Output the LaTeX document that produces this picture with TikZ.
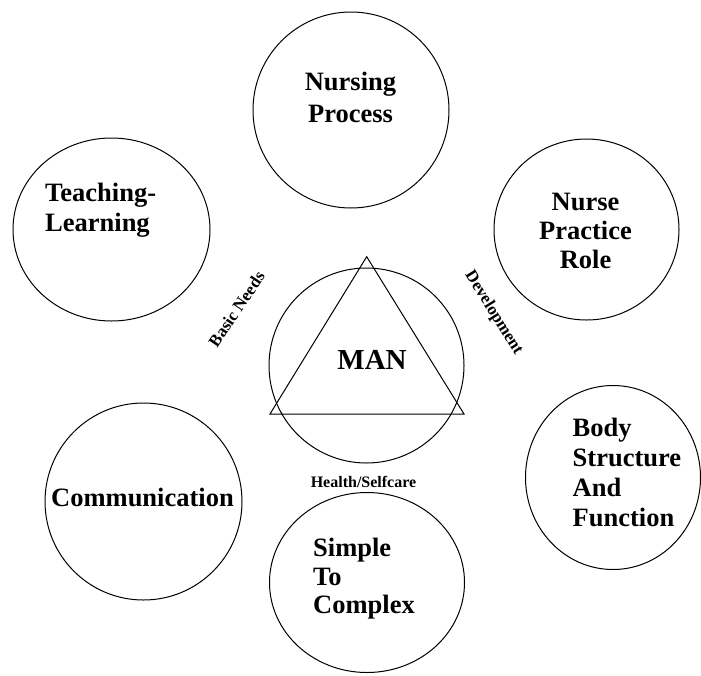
\documentclass[tikz,border=0pt]{standalone}
\usepackage{fontspec}
\setmainfont{Liberation Serif}
\usetikzlibrary{shapes.geometric}
\newcommand{\stack}[2][l]{\begin{tabular}[t]{@{}#1@{}}#2\end{tabular}}

\begin{document}
\begin{tikzpicture}[x=1pt,y=-1pt,
		bubble/.style={draw, ellipse, line width=1pt, inner sep=0pt},
		txt/.style={inner sep=0pt, font=\bfseries\fontsize{26.5}{#1}\selectfont},
		txt/.default=30,
		lbl/.style={inner sep=0pt, font=\bfseries\fontsize{#1}{#1}\selectfont},
		lbl/.default=17]
	\useasboundingbox (0,0) rectangle (701,675);
	% outer bubbles
	\node[bubble, minimum width=196pt, minimum height=196pt] (nursing) at (351,110) {};
	\node[bubble, minimum width=197pt, minimum height=183pt] (teaching) at (111.5,229.5) {};
	\node[bubble, minimum width=185pt, minimum height=181pt] (nurse) at (586.5,229.5) {};
	\node[bubble, minimum width=197pt, minimum height=197pt] (comm) at (143.5,501.5) {};
	\node[bubble, minimum width=175pt, minimum height=184pt] (body) at (613,477.5) {};
	\node[bubble, minimum width=195pt, minimum height=180pt] (simple) at (367,582.5) {};
	% centre
	\node[bubble, minimum width=195pt, minimum height=195pt] (man) at (366.5,365.5) {};
	\coordinate (apex) at (366.7,256.7);
	\coordinate (baseL) at (270,414);
	\coordinate (baseR) at (464,414);
	\draw[line width=1pt] (apex) -- (baseL) -- (baseR) -- cycle;
	\node[inner sep=0pt, anchor=base, font=\bfseries\fontsize{29}{29}\selectfont] (mantext) at (372,369) {MAN};
	% texts
	\node[txt=32, anchor=base] (nursingtext) at (350.5,90) {\stack[c]{Nursing\\Process}};
	\node[txt, anchor=base west] (teachingtext) at (45,201.5) {\stack{Teaching-\\Learning}};
	\node[txt=29, anchor=base] (nursetext) at (585.5,210) {\stack[c]{Nurse\\Practice\\Role}};
	\node[txt, anchor=base] (commtext) at (142.5,506.5) {Communication};
	\node[txt, anchor=base west] (bodytext) at (572.5,436.5) {\stack{Body\\Structure\\And\\Function}};
	\node[txt=28.5, anchor=base west] (simpletext) at (313,556.5) {\stack{Simple\\To\\Complex}};
	% labels round MAN
	\node[lbl, rotate=56] (basic) at (236.5,309) {Basic Needs};
	\node[lbl, rotate=-58] (devel) at (493.5,313) {Development};
	\node[lbl=16, anchor=base] (health) at (363.5,487) {Health/Selfcare};
\end{tikzpicture}
\end{document}
